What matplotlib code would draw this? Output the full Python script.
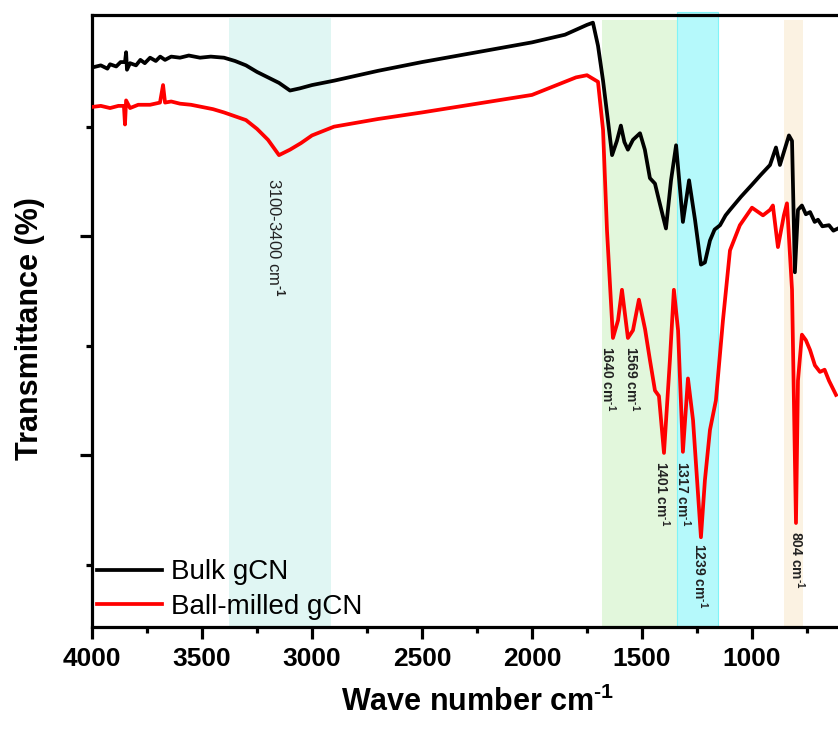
import numpy as np
import matplotlib.pyplot as plt

plt.rcParams['font.family'] = ['Liberation Sans', 'DejaVu Sans']
plt.rcParams['mathtext.fontset'] = 'custom'
plt.rcParams['mathtext.rm'] = 'Liberation Sans:bold'
plt.rcParams['mathtext.bf'] = 'Liberation Sans:bold'

# FTIR spectra (wavenumber cm-1, transmittance)
bulk_wn = [4000, 3960, 3930, 3918, 3890, 3870, 3850, 3845, 3841, 3827, 3800, 3780,
           3760, 3736, 3710, 3690, 3668, 3640, 3600, 3560, 3509, 3460, 3400, 3350,
           3300, 3250, 3200, 3150, 3100, 3055, 3000, 2900, 2700, 2500, 2250, 2000,
           1850, 1750, 1723, 1700, 1677, 1655, 1636, 1614, 1596, 1580, 1564, 1541,
           1509, 1487, 1464, 1441, 1423, 1391, 1368, 1345, 1314, 1286, 1259, 1232,
           1214, 1191, 1170, 1145, 1120, 1100, 1050, 1000, 960, 918, 891, 873, 832,
           818, 805, 791, 773, 755, 736, 715, 700, 680, 650, 630, 609]
bulk_t = [55.4, 55.6, 55.3, 55.7, 55.5, 55.9, 55.9, 56.8, 55.2, 55.8, 55.6, 56.1,
          55.8, 56.3, 56.0, 56.4, 56.1, 56.4, 56.3, 56.5, 56.3, 56.4, 56.3, 56.0,
          55.6, 55.0, 54.5, 54.0, 53.3, 53.5, 53.8, 54.2, 55.1, 55.9, 56.8, 57.7,
          58.4, 59.3, 59.5, 57.4, 54.2, 50.6, 47.4, 48.7, 50.1, 48.6, 47.9, 48.8,
          49.4, 47.9, 45.3, 44.8, 43.3, 40.7, 45.1, 48.3, 41.3, 45.1, 41.5, 37.4,
          37.6, 39.6, 40.6, 41.0, 41.9, 42.4, 43.6, 44.7, 45.6, 46.5, 48.1, 46.5,
          49.2, 48.7, 36.7, 42.4, 42.8, 42.0, 42.2, 41.3, 41.5, 40.9, 41.0, 40.5, 40.7]

milled_wn = [4000, 3960, 3918, 3880, 3855, 3850, 3845, 3827, 3790, 3736, 3691, 3677,
             3668, 3640, 3600, 3550, 3500, 3450, 3400, 3300, 3250, 3200, 3150, 3100,
             3050, 3000, 2900, 2700, 2500, 2250, 2000, 1800, 1750, 1700, 1677, 1659,
             1632, 1609, 1591, 1564, 1541, 1514, 1486, 1464, 1441, 1423, 1400, 1373,
             1355, 1336, 1314, 1291, 1268, 1232, 1214, 1191, 1164, 1132, 1100, 1055,
             1000, 950, 918, 905, 882, 855, 841, 818, 800, 791, 773, 755, 736, 714,
             691, 670, 650, 618]
milled_t = [51.8, 51.9, 51.7, 51.9, 51.9, 50.2, 52.4, 51.7, 52.0, 52.0, 52.2, 53.8,
            52.2, 52.3, 52.1, 52.0, 51.8, 51.6, 51.3, 50.6, 49.8, 48.8, 47.4, 47.9,
            48.5, 49.2, 50.0, 50.7, 51.3, 52.1, 52.9, 54.5, 54.7, 54.1, 49.7, 40.5,
            30.7, 32.3, 35.1, 30.7, 31.4, 34.2, 31.5, 28.7, 25.9, 25.4, 20.2, 28.7,
            35.1, 31.4, 20.3, 27.0, 23.2, 12.5, 17.7, 22.3, 25.0, 32.3, 38.7, 41.0,
            42.6, 41.9, 42.4, 42.8, 39.0, 41.9, 43.0, 35.1, 13.8, 26.8, 31.0, 30.5,
            29.6, 28.2, 27.6, 27.8, 26.8, 25.5]

# shaded bands (from, to, colour, top in axes fraction)
bands = [(3377, 2914, '#e0f6f3', 0.995),
         (1682, 1341, '#e2f7dc', 0.992),
         (1341, 1155, '#b5f9fb', 1.005),
         (855, 768, '#fbf2e2', 0.992)]

# peak labels: text, x, y top, size
peaks = [('3100-3400 cm$^{\\text{-1}}$', 3164, 45.3, 12),
         ('1640 cm$^{\\text{-1}}$', 1655, 30.0, 10),
         ('1569 cm$^{\\text{-1}}$', 1545, 30.0, 10),
         ('1401 cm$^{\\text{-1}}$', 1409, 19.5, 10),
         ('1317 cm$^{\\text{-1}}$', 1314, 19.5, 10),
         ('1239 cm$^{\\text{-1}}$', 1236, 12.0, 10),
         ('804 cm$^{\\text{-1}}$', 795, 13.1, 10)]

fig = plt.figure(figsize=(8.38, 7.45), dpi=100)
ax = fig.add_axes([92/838, 1 - 627/745, 746/838, 612/745])

for x0, x1, col, top in bands:
    ec = '#7ff4f8' if col == '#b5f9fb' else 'none'
    ax.axvspan(x0, x1, ymin=0, ymax=top, facecolor=col, edgecolor=ec,
               linewidth=0.8, zorder=0, clip_on=False)

ax.plot(bulk_wn, bulk_t, color='black', lw=2.7, label='Bulk gCN', zorder=3)
ax.plot(milled_wn, milled_t, color='red', lw=2.7, label='Ball-milled gCN', zorder=3)

for txt, x, y, fs in peaks:
    ax.text(x, y, txt, rotation=270, ha='center', va='top', fontsize=fs,
            color='#222222', fontweight='bold' if fs == 10 else 'normal')

ax.set_xlim(4000, 609)
ax.set_ylim(4.3, 60.2)
ax.set_xticks([4000, 3500, 3000, 2500, 2000, 1500, 1000])
ax.set_xticks(np.arange(3750, 600, -500), minor=True)
ax.set_yticks([20, 40])
ax.set_yticks([10, 30, 50], minor=True)
ax.set_yticklabels([])

for s in ['left', 'bottom', 'top']:
    ax.spines[s].set_linewidth(2.3)
ax.spines['right'].set_visible(False)
ax.tick_params(axis='both', which='major', direction='out', length=8.5, width=2.3,
               labelsize=19, pad=6)
ax.tick_params(axis='both', which='minor', direction='out', length=4, width=2.3)
for lab in ax.get_xticklabels():
    lab.set_fontweight('bold')

ax.set_xlabel('Wave number cm$^{\\text{-1}}$', fontsize=22, fontweight='bold')
ax.xaxis.set_label_coords(0.517, -0.098)
ax.xaxis.label.set_va('top')
ax.set_ylabel('Transmittance (%)', fontsize=22, fontweight='bold')
ax.yaxis.set_label_coords(-0.063, 0.487)

ax.legend(loc='lower left', bbox_to_anchor=(0.007, 0.012), frameon=False,
          fontsize=20, handlelength=2.35, handletextpad=0.3, labelspacing=0.3,
          borderpad=0, borderaxespad=0)

fig.savefig('out.png', dpi=100)
